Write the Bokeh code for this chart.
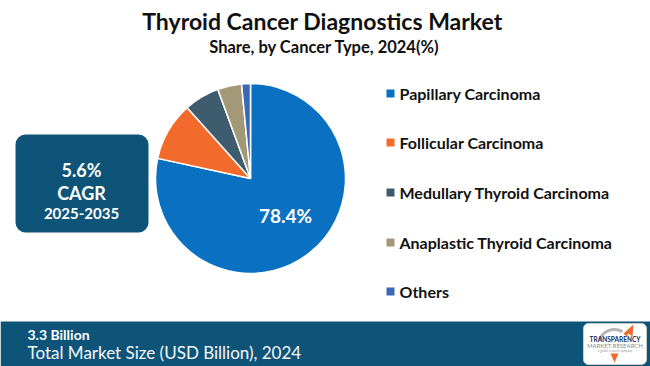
import math
from bokeh.plotting import figure
from bokeh.models import Range1d, ColumnDataSource
from bokeh.core.properties import value
from bokeh.embed import file_html
from bokeh.resources import INLINE

# ---- data ----
categories = ["Papillary Carcinoma", "Follicular Carcinoma", "Medullary Thyroid Carcinoma",
              "Anaplastic Thyroid Carcinoma", "Others"]
shares = [78.4, 10.0, 6.0, 4.1, 1.5]
colors = ["#0A70C2", "#F26B2C", "#3E5C6E", "#A39877", "#3A68B3"]
title = "Thyroid Cancer Diagnostics Market"
subtitle = "Share, by Cancer Type, 2024(%)"
cagr_value = "5.6%"
cagr_label = "CAGR"
cagr_period = "2025-2035"
market_value = "3.3 Billion"
market_label = "Total Market Size (USD Billion), 2024"
highlight_label = "78.4%"

H = 366
def Y(y):
    return H - y

p = figure(width=650, height=366, output_backend="svg", toolbar_location=None,
           x_range=Range1d(0, 650), y_range=Range1d(0, 366),
           min_border=0, background_fill_color="#FFFFFF", border_fill_color="#FFFFFF")
p.axis.visible = False
p.grid.visible = False
p.outline_line_color = None

F = value("Lato")
DARK = "#0E5479"

# title
p.text(x=[322], y=[Y(20)], text=[title], text_font=F, text_font_style="bold",
       text_font_size="23px", text_align="center", text_baseline="middle", text_color="#111111")
p.text(x=[324], y=[Y(46)], text=[subtitle], text_font=F, text_font_style="bold",
       text_font_size="16.5px", text_align="center", text_baseline="middle", text_color="#111111")

# pie
total = sum(shares)
starts, ends = [], []
cum = 0.0
for s in shares:
    starts.append(math.pi / 2 - 2 * math.pi * cum / total)
    cum += s
    ends.append(math.pi / 2 - 2 * math.pi * cum / total)
src = ColumnDataSource(dict(start=starts, end=ends, color=colors, cat=categories))
p.wedge(x=250, y=Y(178), radius=95, start_angle="start", end_angle="end", direction="clock",
        fill_color="color", line_color="white", line_width=1.5, source=src)
p.text(x=[285], y=[Y(215)], text=[highlight_label], text_font=F, text_font_style="bold",
       text_font_size="19px", text_align="center", text_baseline="middle", text_color="white")

# legend
leg_y = [93, 142, 192, 242, 291]
p.scatter(x=[390] * len(categories), y=[Y(v) for v in leg_y], marker="square", size=8,
          fill_color=colors, line_color=None)
p.text(x=[399] * len(categories), y=[Y(v) for v in leg_y], text=categories, text_font=F,
       text_font_style="bold", text_font_size="16px", text_align="left", text_baseline="middle",
       text_color="#111111")

# CAGR box
p.quad(left=[15], right=[148], top=[Y(134)], bottom=[Y(232)], fill_color=DARK, line_color=None,
       border_radius=10)
p.text(x=[81], y=[Y(169)], text=[cagr_value], text_font=F, text_font_style="bold",
       text_font_size="18px", text_align="center", text_baseline="middle", text_color="white")
p.text(x=[81], y=[Y(192)], text=[cagr_label], text_font=F, text_font_style="bold",
       text_font_size="18px", text_align="center", text_baseline="middle", text_color="white")
p.text(x=[81], y=[Y(213)], text=[cagr_period], text_font=F, text_font_style="bold",
       text_font_size="15px", text_align="center", text_baseline="middle", text_color="white")

# bottom bar
p.quad(left=[0], right=[650], top=[Y(321)], bottom=[Y(366)], fill_color=DARK, line_color=None)
p.text(x=[27], y=[Y(334)], text=[market_value], text_font=F, text_font_style="bold",
       text_font_size="14px", text_align="left", text_baseline="middle", text_color="white")
p.text(x=[27], y=[Y(352)], text=[market_label], text_font=F,
       text_font_size="17px", text_align="left", text_baseline="middle", text_color="#F4F7FA")

# logo
p.quad(left=[583], right=[646], top=[Y(323)], bottom=[Y(364)], fill_color="white",
       line_color="#CCCCCC", border_radius=5)
p.arc(x=[614], y=[Y(345)], radius=16, start_angle=math.radians(160), end_angle=math.radians(60),
      direction="clock", line_color="#B5B5B5", line_width=3)
p.patch(x=[623, 633, 632, 628, 626], y=[Y(333), Y(324), Y(336), Y(333), Y(336)],
        fill_color="#F26B2C", line_color=None)
p.patch(x=[610, 618, 614], y=[Y(353), Y(353), Y(362)], fill_color="#F26B2C", line_color=None)
p.text(x=[614.5], y=[Y(339)], text=["TRANSPARENCY"], text_font=F, text_font_style="bold",
       text_font_size="6.5px", text_align="center", text_baseline="middle", text_color="#1C2F5A")
p.text(x=[614.5], y=[Y(345)], text=["MARKET RESEARCH"], text_font=F,
       text_font_size="6px", text_align="center", text_baseline="middle", text_color="#8A8A8A")
p.text(x=[614.5], y=[Y(350)], text=["a global research company"], text_font=F,
       text_font_size="3px", text_align="center", text_baseline="middle", text_color="#999999")

open("out.html", "w").write(file_html(p, INLINE))
